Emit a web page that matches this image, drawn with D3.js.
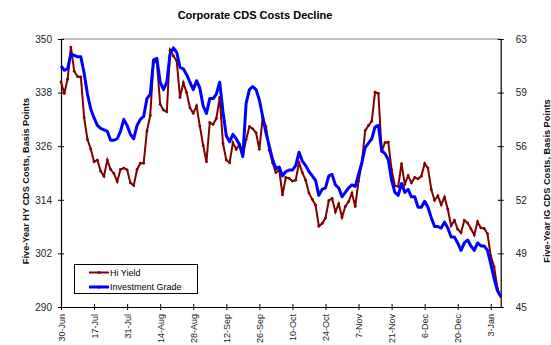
<!DOCTYPE html>
<html>
<head>
<meta charset="utf-8">
<script src="https://cdn.jsdelivr.net/npm/d3@7"></script>
<style>
  body { margin: 0; background: #fff; }
  svg text { font-family: "Liberation Sans", Arial, sans-serif; }
  .tickLabel { font-size: 10px; fill: #222; }
  .xLabel { font-size: 9px; }
  .axisTitle { font-size: 9.2px; font-weight: bold; fill: #111; }
</style>
</head>
<body>
<svg id="chart" width="551" height="345"></svg>
<script>
//////////////////// DATA ////////////////////
// x-axis tick labels, one every 10 trading days
const xLabels = ["30-Jun", "17-Jul", "31-Jul", "14-Aug", "28-Aug", "12-Sep", "26-Sep",
                 "10-Oct", "24-Oct", "7-Nov", "21-Nov", "6-Dec", "20-Dec", "3-Jan"];

// left axis (Hi Yield), basis points
const hiYield = [
  340.4, 337.8, 341.0, 348.2, 342.8, 341.6, 341.5, 332.4, 327.5, 325.4,
  322.5, 322.9, 320.4, 319.3, 322.9, 320.8, 319.9, 318.1, 320.8, 321.1,
  320.7, 317.8, 317.2, 320.8, 322.2, 322.2, 329.4, 332.9, 345.1, 344.7,
  335.4, 334.1, 333.7, 347.5, 346.2, 345.1, 336.9, 340.2, 338.0, 334.6,
  333.4, 335.0, 330.5, 326.2, 322.5, 331.3, 330.9, 332.2, 336.9, 326.6,
  322.9, 322.3, 326.8, 325.3, 326.4, 323.8, 327.5, 330.4, 329.9, 329.0,
  325.3, 332.4, 330.4, 325.1, 322.3, 320.1, 320.7, 315.1, 319.0, 318.8,
  318.2, 318.4, 322.3, 320.1, 318.4, 315.5, 314.1, 312.8, 308.1, 308.7,
  309.9, 313.8, 314.3, 311.3, 313.1, 310.1, 312.5, 313.6, 315.5, 312.5,
  318.2, 322.2, 329.5, 330.6, 331.6, 338.1, 337.8, 324.8, 326.8, 326.9,
  320.7, 317.1, 317.0, 322.1, 317.5, 319.4, 317.8, 319.0, 318.7, 319.3,
  322.1, 321.1, 316.3, 313.9, 314.9, 312.9, 314.6, 311.9, 308.2, 309.4,
  307.4, 306.6, 309.4, 308.8, 307.5, 306.1, 309.1, 307.7, 307.6, 306.4,
  301.4, 299.0, 294.2, 292.3
];

// right axis (Investment Grade), basis points
const invGrade = [
  61.2, 60.9, 61.0, 62.0, 61.9, 61.8, 61.8, 60.7, 59.3, 58.3,
  57.7, 57.2, 57.0, 56.9, 56.8, 56.2, 56.2, 56.3, 56.8, 57.6,
  57.2, 56.6, 56.3, 57.2, 57.6, 57.8, 59.0, 59.3, 61.6, 61.7,
  60.1, 59.6, 60.1, 62.0, 62.4, 62.1, 61.1, 61.0, 60.6, 60.1,
  59.6, 60.2, 59.7, 58.5, 58.0, 59.0, 59.0, 59.3, 60.1, 58.1,
  56.5, 56.1, 56.6, 56.3, 55.9, 55.1, 58.7, 59.6, 59.8, 59.6,
  58.9, 57.8, 56.7, 55.8, 54.9, 54.3, 54.4, 53.8, 54.1, 54.2,
  54.2, 54.5, 55.4, 54.8, 54.5, 54.1, 53.8, 53.5, 52.5, 52.9,
  53.0, 53.8, 53.9, 53.2, 53.0, 52.4, 52.7, 53.0, 53.2, 53.1,
  53.9, 54.7, 55.7, 56.0, 56.3, 57.1, 57.2, 55.5, 55.3, 54.9,
  53.5, 52.7, 52.5, 53.3, 52.7, 52.9, 52.4, 52.4, 51.7, 51.7,
  52.1, 51.7, 51.0, 50.4, 50.4, 50.3, 50.7, 50.3, 49.7, 49.7,
  49.3, 48.8, 49.3, 49.5, 49.1, 48.8, 49.3, 49.1, 49.1, 48.8,
  47.9, 46.9, 46.1, 45.7
];

const leftTicks = [290, 302, 314, 326, 338, 350];
const rightTicks = [45, 48.6, 52.2, 55.8, 59.4, 63];

//////////////////// SIZES ////////////////////
const plot = { left: 61, right: 500.7, top: 39, bottom: 307 };

const svg = d3.select("#chart");

//////////////////// SCALES ////////////////////
const scaleX = d3.scaleLinear()
    .domain([0, hiYield.length - 1])
    .range([plot.left, plot.right]);

const scaleLeft = d3.scaleLinear()
    .domain([290, 350])
    .range([plot.bottom, plot.top]);

const scaleRight = d3.scaleLinear()
    .domain([45, 63])
    .range([plot.bottom, plot.top]);

//////////////////// TITLE ////////////////////
svg.append("text")
    .attr("x", 255)
    .attr("y", 19)
    .attr("text-anchor", "middle")
    .style("font-size", "11px")
    .style("font-weight", "bold")
    .text("Corporate CDS Costs Decline");

// top border of plot area
svg.append("line")
    .attr("x1", plot.left).attr("x2", plot.right)
    .attr("y1", plot.top).attr("y2", plot.top)
    .attr("stroke", "#808080")
    .attr("stroke-width", 1);

//////////////////// AXES ////////////////////
// left axis
const leftAxis = svg.append("g")
    .attr("transform", `translate(${plot.left},0)`)
    .call(d3.axisLeft(scaleLeft).tickValues(leftTicks).tickSizeInner(3).tickSizeOuter(0).tickPadding(6));

// right axis
const rightAxis = svg.append("g")
    .attr("transform", `translate(${plot.right},0)`)
    .call(d3.axisRight(scaleRight).tickValues(rightTicks)
        .tickFormat(d => Math.round(d)).tickSizeInner(3).tickSizeOuter(0).tickPadding(12));

// bottom axis
const xTickIdx = xLabels.map((d, i) => i * 10);
const bottomAxis = svg.append("g")
    .attr("transform", `translate(0,${plot.bottom})`)
    .call(d3.axisBottom(scaleX).tickValues(xTickIdx)
        .tickFormat((d, i) => xLabels[i]).tickSizeInner(3).tickSizeOuter(0));

// cross ticks and styling
leftAxis.selectAll(".tick line").attr("x1", 3);
rightAxis.selectAll(".tick line").attr("x1", -3);
bottomAxis.selectAll(".tick line").attr("y1", -3);

[leftAxis, rightAxis, bottomAxis].forEach(g => {
    g.select(".domain").attr("stroke", "#000").attr("stroke-width", 1.2);
    g.selectAll(".tick line").attr("stroke", "#000");
    g.selectAll(".tick text").attr("class", "tickLabel").attr("font-family", null).attr("font-size", null);
});

bottomAxis.selectAll(".tick text")
    .attr("class", "tickLabel xLabel")
    .attr("transform", "rotate(-90)")
    .attr("text-anchor", "end")
    .attr("x", -7)
    .attr("y", 0)
    .attr("dy", "0.35em");

// axis titles
svg.append("text")
    .attr("class", "axisTitle")
    .attr("transform", "rotate(-90, 29, 181)")
    .attr("x", 29).attr("y", 181)
    .attr("text-anchor", "middle")
    .text("Five-Year HY CDS Costs, Basis Points");

svg.append("text")
    .attr("class", "axisTitle")
    .attr("transform", "rotate(-90, 550, 181)")
    .attr("x", 550).attr("y", 181)
    .attr("text-anchor", "middle")
    .text("Five-Year IG CDS Costs, Basis Points");

//////////////////// LINES ////////////////////
const lineLeft = d3.line()
    .x((d, i) => scaleX(i))
    .y(d => scaleLeft(d));

const lineRight = d3.line()
    .x((d, i) => scaleX(i))
    .y(d => scaleRight(d));

svg.append("path")
    .datum(hiYield)
    .attr("fill", "none")
    .attr("stroke", "#800000")
    .attr("stroke-width", 2)
    .attr("d", lineLeft);

svg.selectAll(".hyDot")
    .data(hiYield)
    .enter()
    .append("circle")
    .attr("class", "hyDot")
    .attr("cx", (d, i) => scaleX(i))
    .attr("cy", d => scaleLeft(d))
    .attr("r", 1.4)
    .attr("fill", "#800000");

svg.append("path")
    .datum(invGrade)
    .attr("fill", "none")
    .attr("stroke", "#0000ff")
    .attr("stroke-width", 3)
    .attr("stroke-linejoin", "round")
    .attr("d", lineRight);

//////////////////// LEGEND ////////////////////
const legend = svg.append("g");

legend.append("rect")
    .attr("x", 74.5).attr("y", 264.5)
    .attr("width", 123).attr("height", 29)
    .attr("fill", "#fff")
    .attr("stroke", "#000")
    .attr("stroke-width", 1);

const legendItems = [
    { name: "Hi Yield", color: "#800000", width: 2, y: 272.5 },
    { name: "Investment Grade", color: "#0000ff", width: 3, y: 287 }
];

legendItems.forEach(d => {
    legend.append("line")
        .attr("x1", 89).attr("x2", 109)
        .attr("y1", d.y).attr("y2", d.y)
        .attr("stroke", d.color)
        .attr("stroke-width", d.width);
    legend.append("circle")
        .attr("cx", 99).attr("cy", d.y)
        .attr("r", 1.6)
        .attr("fill", d.color);
    legend.append("text")
        .attr("x", 110).attr("y", d.y)
        .attr("dy", "0.35em")
        .style("font-size", "9px")
        .text(d.name);
});
</script>
</body>
</html>
